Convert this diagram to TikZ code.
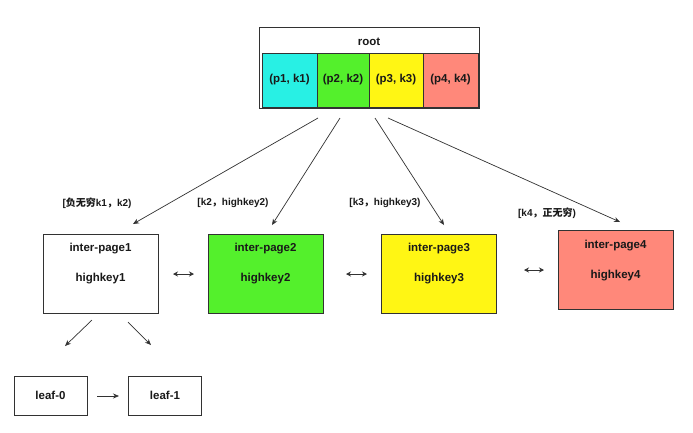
\documentclass[tikz,border=0pt]{standalone}
\usepackage{fontspec}
\setmainfont{Liberation Sans}
\newfontfamily\cjk{Noto Sans CJK SC}
\usetikzlibrary{arrows.meta,calc}
\definecolor{ccyan}{RGB}{40,240,228}
\definecolor{cgreen}{RGB}{84,240,44}
\definecolor{cyellow}{RGB}{255,246,20}
\definecolor{csalmon}{RGB}{255,136,122}
\definecolor{cline}{RGB}{50,50,50}
\definecolor{ctext}{RGB}{25,25,25}
\tikzset{
  box/.style={draw=cline,line width=0.7pt,inner sep=0pt,text=ctext},
  txt/.style={text=ctext,inner sep=0pt,font=\bfseries\fontsize{11.5}{13}\selectfont},
  cell/.style={box,minimum height=54pt,font=\bfseries\fontsize{11.5}{13}\selectfont},
  page/.style={box,minimum width=115pt,minimum height=79pt},
  leaf/.style={box,minimum width=73pt,minimum height=39pt,font=\bfseries\fontsize{11.5}{13}\selectfont},
  lbl/.style={text=ctext,font=\bfseries\fontsize{10}{12}\selectfont,inner sep=0pt},
  arr/.style={draw=cline,line width=0.7pt,-{Stealth[length=6pt,width=5pt]}},
  darr/.style={draw=cline,line width=0.9pt,{Stealth[length=5pt,width=5pt]}-{Stealth[length=5pt,width=5pt]}}
}
\begin{document}
\begin{tikzpicture}[x=1pt,y=-1pt]
\useasboundingbox[fill=white] (0,0) rectangle (693,432);
% root
\node[box,minimum width=220pt,minimum height=81pt] (root) at (369,67.5) {};
\node[txt] (roottxt) at (369,42) {root};
\node[cell,fill=ccyan,minimum width=55pt] (c1) at (289.5,80) {(p1, k1)};
\node[cell,fill=cgreen,minimum width=52pt] (c2) at (343,80) {(p2, k2)};
\node[cell,fill=cyellow,minimum width=54pt] (c3) at (396,80) {(p3, k3)};
\node[cell,fill=csalmon,minimum width=55pt] (c4) at (450.5,80) {(p4, k4)};
% inter pages
\node[page] (p1) at (100.5,273.5) {};
\node[page,fill=cgreen] (p2) at (265.5,273.5) {};
\node[page,fill=cyellow] (p3) at (439,273.5) {};
\node[page,fill=csalmon] (p4) at (615.5,270) {};
\foreach \p/\i in {p1/1,p2/2,p3/3,p4/4}{
  \node[txt] (\p a) at ($(\p)+(0,-24.5)$) {inter-page\i};
  \node[txt] (\p b) at ($(\p)+(0,5.5)$) {highkey\i};
}
% leaves
\node[leaf] (l0) at (50.5,395.5) {leaf-0};
\node[leaf] (l1) at (165,395.5) {leaf-1};
% labels
\node[lbl] (t1) at (97,203) {[{\cjk 负无穷}k1{\cjk ，}k2)};
\node[lbl] (t2) at (233,203) {[k2{\cjk ，}highkey2)};
\node[lbl] (t3) at (385,203) {[k3{\cjk ，}highkey3)};
\node[lbl] (t4) at (547,213) {[k4{\cjk ，正无穷})};
% arrow coordinates
\coordinate (s1) at (318,118); \coordinate (e1) at (133,224);
\coordinate (s2) at (340,118); \coordinate (e2) at (272,225);
\coordinate (s3) at (375,118); \coordinate (e3) at (444,225);
\coordinate (s4) at (388,118); \coordinate (e4) at (620,222);
\draw[arr] (s1) -- (e1);
\draw[arr] (s2) -- (e2);
\draw[arr] (s3) -- (e3);
\draw[arr] (s4) -- (e4);
% double arrows
\coordinate (d1a) at (173,274); \coordinate (d1b) at (194,274);
\coordinate (d2a) at (346,274); \coordinate (d2b) at (367,274);
\coordinate (d3a) at (524,270); \coordinate (d3b) at (544,270);
\draw[darr] (d1a) -- (d1b);
\draw[darr] (d2a) -- (d2b);
\draw[darr] (d3a) -- (d3b);
% leaf arrows
\coordinate (f1a) at (92,320); \coordinate (f1b) at (65,346);
\coordinate (f2a) at (128,322); \coordinate (f2b) at (151,345);
\draw[arr] (f1a) -- (f1b);
\draw[arr] (f2a) -- (f2b);
\coordinate (g1) at (97,396); \coordinate (g2) at (119,396);
\draw[arr] (g1) -- (g2);
\end{tikzpicture}
\end{document}
